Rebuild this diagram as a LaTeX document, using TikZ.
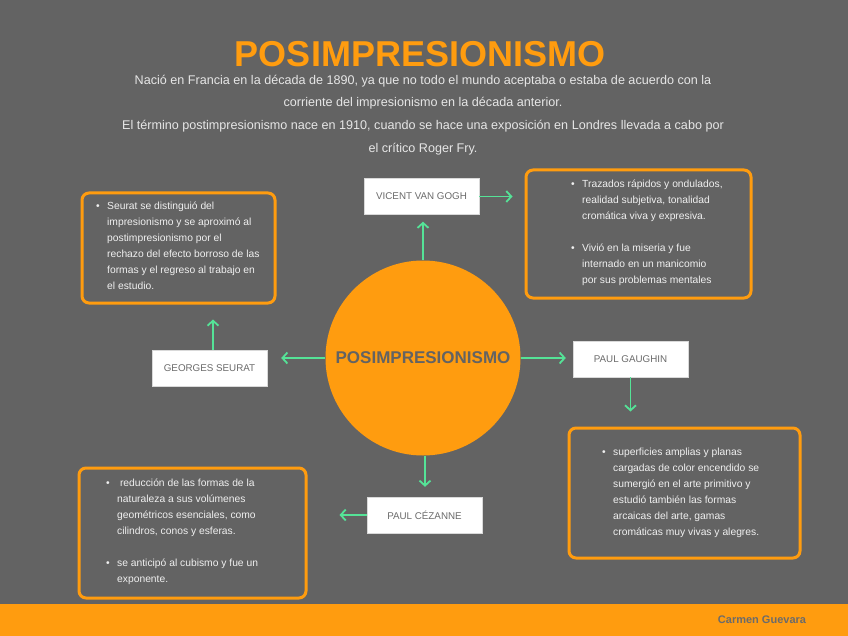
\documentclass[tikz,border=0pt]{standalone}
\usepackage{fontspec}
\setmainfont{Liberation Sans}
\usetikzlibrary{arrows.meta,positioning}
\definecolor{bggray}{HTML}{636363}
\definecolor{accentorange}{HTML}{FF9C0F}
\definecolor{linkgreen}{HTML}{55E397}
\definecolor{labelgray}{HTML}{6B6B6B}
\definecolor{paletext}{HTML}{F0F0F0}
\definecolor{headtext}{HTML}{E6E6E6}
\newcommand{\bul}{\makebox[11pt][l]{\textbullet}}
\newcommand{\ind}{\hspace*{11pt}}
\tikzset{
  namebox/.style={fill=white,draw=white!85!black,line width=0.4pt,
                  minimum width=115pt,minimum height=36pt,inner sep=0pt,
                  font=\fontsize{9.8}{11}\selectfont,text=labelgray},
  notebox/.style={draw=accentorange,fill=bggray,line width=3pt,
                  rounded corners=7pt,inner sep=0pt},
  notetext/.style={align=left,anchor=north west,inner sep=0pt,
                   font=\fontsize{10.3}{16}\selectfont,text=paletext},
  link/.style={-{Straight Barb[length=5pt,width=11pt]},line width=1.8pt,
               color=linkgreen}
}

\begin{document}
\begin{tikzpicture}[x=1pt,y=-1pt]
  \fill[bggray] (0,0) rectangle (848,636);
  \fill[accentorange] (0,604) rectangle (848,636);
  \useasboundingbox (0,0) rectangle (848,636);

  % heading
  \node[font=\fontsize{36}{40}\selectfont\bfseries,text=accentorange] (title)
    at (420,54) {POSIMPRESIONISMO};
  \node[align=center,font=\fontsize{12.6}{22.7}\selectfont,text=headtext] (intro)
    at (423,115) {Nació en Francia en la década de 1890, ya que no todo el mundo aceptaba o estaba de acuerdo con la\\
    corriente del impresionismo en la década anterior.\\
    El término postimpresionismo nace en 1910, cuando se hace una exposición en Londres llevada a cabo por\\
    el crítico Roger Fry.};

  % centre
  \node[circle,fill=accentorange,minimum size=195pt,inner sep=0pt,
        font=\fontsize{17}{20}\selectfont\bfseries,text=bggray] (circ)
    at (423,358) {POSIMPRESIONISMO};

  % painters
  \node[namebox] (gogh) at (421.5,196.5) {VICENT VAN GOGH};
  \node[namebox] (seurat) at (209.5,368) {GEORGES SEURAT};
  \node[namebox] (gaughin) at (630.5,359) {PAUL GAUGHIN};
  \node[namebox] (cezanne) at (424.5,515) {PAUL CÉZANNE};

  % notes
  \node[notebox,minimum width=193pt,minimum height=110pt] (seuratbox) at (178.5,248) {};
  \node[notebox,minimum width=225pt,minimum height=128pt] (goghbox) at (638.5,234) {};
  \node[notebox,minimum width=231pt,minimum height=130pt] (gaughinbox) at (684.5,493) {};
  \node[notebox,minimum width=227pt,minimum height=130pt] (cezannebox) at (192.5,533) {};

  \node[notetext] (seurattext) at (96,202) {\bul Seurat se distinguió del\\
    \ind impresionismo y se aproximó al\\
    \ind postimpresionismo por el\\
    \ind rechazo del efecto borroso de las\\
    \ind formas y el regreso al trabajo en\\
    \ind el estudio.};
  \node[notetext] (goghtext) at (571,179.5) {\bul Trazados rápidos y ondulados,\\
    \ind realidad subjetiva, tonalidad\\
    \ind cromática viva y expresiva.\\[16pt]
    \bul Vivió en la miseria y fue\\
    \ind internado en un manicomio\\
    \ind por sus problemas mentales};
  \node[notetext] (gaughintext) at (602,448) {\bul superficies amplias y planas\\
    \ind cargadas de color encendido se\\
    \ind sumergió en el arte primitivo y\\
    \ind estudió también las formas\\
    \ind arcaicas del arte, gamas\\
    \ind cromáticas muy vivas y alegres.};
  \node[notetext] (cezannetext) at (106,479) {\bul\ reducción de las formas de la\\
    \ind naturaleza a sus volúmenes\\
    \ind geométricos esenciales, como\\
    \ind cilindros, conos y esferas.\\[16pt]
    \bul se anticipó al cubismo y fue un\\
    \ind exponente.};

  % connectors
  \draw[link,shorten >=7pt] (circ.north) -- (circ.north |- gogh.south);
  \draw[link,shorten >=12pt] (gogh.east) -- (goghbox.west |- gogh.east);
  \draw[link,shorten >=14pt] (circ.west) -- (seurat.east |- circ.west);
  \draw[link,shorten >=15pt] ([xshift=3.5pt]seurat.north) -- ([xshift=3.5pt]seurat.north |- seuratbox.south);
  \draw[link,shorten >=7pt] (circ.east) -- (gaughin.west |- circ.east);
  \draw[link,shorten >=15pt] (gaughin.south) -- (gaughin.south |- gaughinbox.north);
  \draw[link,shorten >=10pt] ([xshift=2pt]circ.south) -- ([xshift=2pt]circ.south |- cezanne.north);
  \draw[link,shorten >=32pt] (cezanne.west) -- (cezannebox.east |- cezanne.west);

  % footer
  \node[font=\fontsize{11}{13}\selectfont\bfseries,text=labelgray] (author)
    at (762,620) {Carmen Guevara};
\end{tikzpicture}
\end{document}
